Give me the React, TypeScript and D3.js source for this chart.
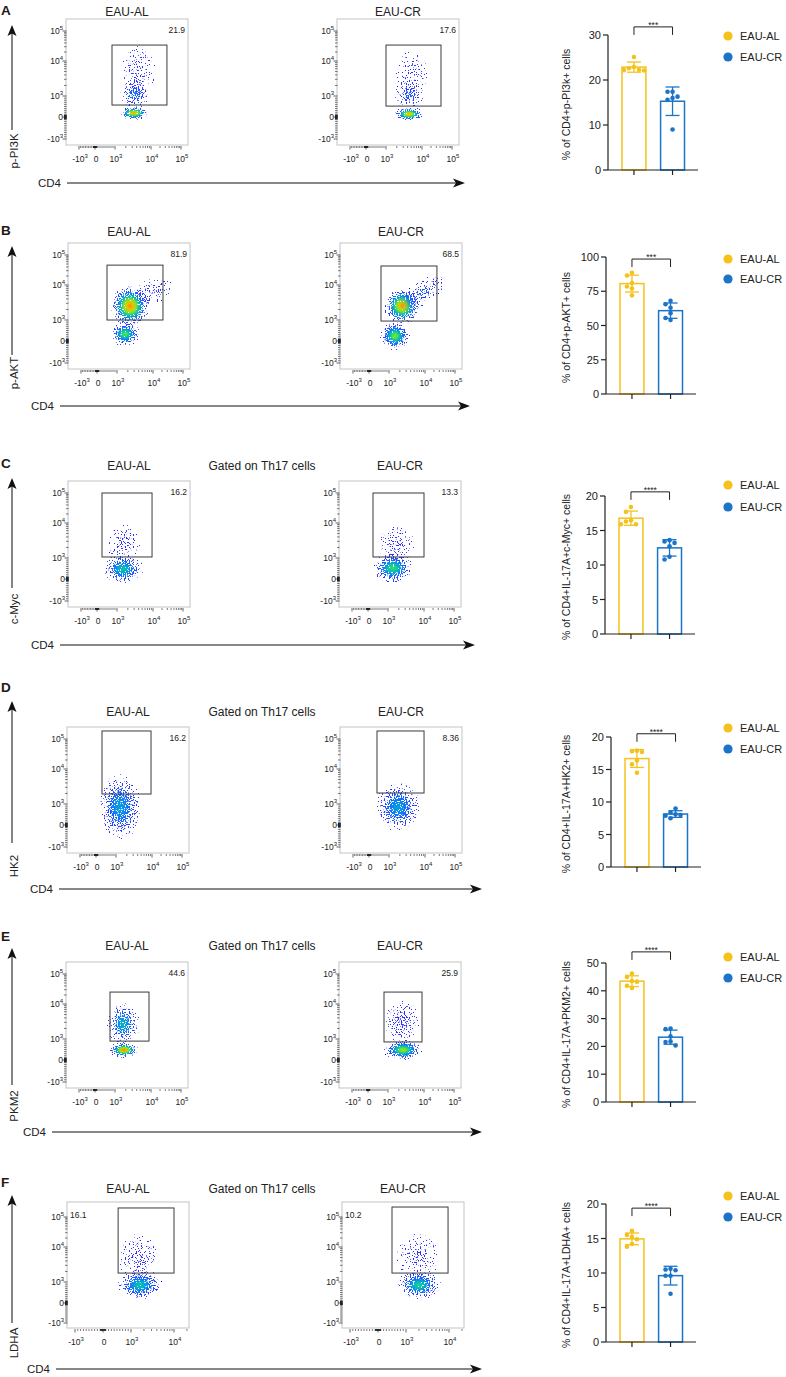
import React from 'react';
import * as d3 from 'd3';

// ---------------- DATA ----------------
const panelLetters = ['A', 'B', 'C', 'D', 'E', 'F'];
const groups = ['EAU-AL', 'EAU-CR'];
const markers = ['p-PI3K', 'p-AKT', 'c-Myc', 'HK2', 'PKM2', 'LDHA'];
const xMarker = 'CD4';
const gatedOn = [false, false, true, true, true, true];
const gatedText = 'Gated on Th17 cells';
const gatePctAL = ['21.9', '81.9', '16.2', '16.2', '44.6', '16.1'];
const gatePctCR = ['17.6', '68.5', '13.3', '8.36', '25.9', '10.2'];
// gate bounds [CD4 lo, CD4 hi, marker lo, marker hi]
const gatesAL = [
  [850, 34000, 570, 34000],
  [500, 21500, 1000, 46000],
  [250, 9400, 1070, 100000],
  [300, 9400, 1930, 185000],
  [750, 8800, 900, 25000],
  [540, 10000, 1800, 200000],
];
const gatesCR = [
  [1000, 43000, 520, 34000],
  [600, 25000, 950, 43000],
  [250, 10000, 1070, 100000],
  [400, 9400, 2060, 185000],
  [800, 8800, 860, 25000],
  [500, 9500, 1800, 215000],
];
const flowTicks = [-1000, 0, 1000, 10000, 100000];
const flowTicksLDHA = [-1000, 0, 1000, 10000];
// cell populations: [CD4, marker, rx, ry, density, heat, angle]
const popsAL = [
  [[3370, 190, 15, 7, 1, 0.85, 0], [3600, 1140, 15, 15, 0.5, 0.15, 0], [4350, 5180, 18, 25, 0.27, 0, 0]],
  [[2300, 2510, 20, 21, 1, 0.88, 0], [1670, 330, 15, 12, 0.9, 0.5, 0], [10000, 6730, 20, 12, 0.32, 0, -25]],
  [[1470, 480, 20, 15, 0.75, 0.35, 0], [1600, 2680, 17, 18, 0.32, 0, 0]],
  [[1290, 860, 21, 33, 0.7, 0.25, 0]],
  [[1780, 480, 15, 8, 1, 0.9, 0], [1670, 2680, 17, 21, 0.62, 0.3, 0]],
  [[1600, 860, 22, 15, 0.8, 0.35, 0], [1530, 5180, 20, 24, 0.32, 0, 0]],
];
const popsCR = [
  [[4350, 140, 15, 7, 1, 0.8, 0], [4350, 1070, 14, 14, 0.45, 0.1, 0], [5270, 4250, 16, 23, 0.25, 0, 0]],
  [[2300, 2510, 18, 18, 1, 0.85, 0], [1470, 240, 15, 14, 0.95, 0.55, 0], [8250, 5900, 26, 11, 0.4, 0.1, -35]],
  [[1380, 520, 20, 15, 0.85, 0.45, 0], [1670, 2510, 18, 18, 0.32, 0, 0]],
  [[1780, 860, 22, 24, 0.72, 0.25, 0]],
  [[2610, 480, 19, 10, 1, 0.6, 0], [2450, 3060, 17, 23, 0.4, 0, 0]],
  [[2000, 860, 22, 14, 0.8, 0.4, 0], [1900, 5180, 21, 24, 0.28, 0, 0]],
];

const barYLabels = [
  '% of CD4+p-PI3k+ cells',
  '% of CD4+p-AKT+ cells',
  '% of CD4+IL-17A+c-Myc+ cells',
  '% of CD4+IL-17A+HK2+ cells',
  '% of CD4+IL-17A+PKM2+ cells',
  '% of CD4+IL-17A+LDHA+ cells',
];
const barMax = [30, 100, 20, 20, 50, 20];
const barStep = [10, 25, 5, 5, 10, 5];
const sigStars = ['***', '***', '****', '****', '****', '****'];
const sigAt = [31.8, 98.5, 20.6, 20.5, 54, 19.4];
const valuesAL = [
  [25.1, 22.9, 22.1, 22.6, 22.2, 22.3],
  [88.5, 86.5, 81, 78.5, 77, 72],
  [18.4, 17.7, 16.5, 16.3, 15.9, 15.9],
  [17.9, 17.8, 17.7, 16.4, 15.8, 14.5],
  [46.2, 45.0, 43.5, 43.3, 41.8, 41.0],
  [16.1, 15.5, 15.2, 14.9, 14.2, 13.8],
];
const valuesCR = [
  [16.3, 17.4, 15.6, 17.4, 16.0, 9.0],
  [68, 65.5, 63, 59, 55.5, 54],
  [13.6, 13.4, 13.2, 12.7, 11.2, 10.8],
  [9.0, 8.4, 8.1, 8.0, 7.9, 7.5],
  [26.4, 26.2, 23.6, 21.8, 21.6, 20.3],
  [10.6, 10.5, 10.4, 9.6, 9.6, 7.0],
];

// ---------------- LAYOUT / STYLE ----------------
const FONT = "'Liberation Sans', Arial, Helvetica, sans-serif";
const INK = '#222';
const YELLOW = '#F5C21B';
const BLUE = '#1B74C7';
const groupColors = [YELLOW, BLUE];
const FW = 122;
const FH = 126;

const flowLayout = [
  { top: 19, lefts: [66, 337], title: 12, letter: 15, yArrow: [25, 130], yLabel: 151, cd4: 183, cd4End: 61, xTip: 465 },
  { top: 243, lefts: [68, 340], title: 232, letter: 235, yArrow: [246, 355], yLabel: 373, cd4: 406, cd4End: 54, xTip: 470 },
  { top: 481, lefts: [68, 339], title: 466, letter: 468, yArrow: [478, 588], yLabel: 609, cd4: 645, cd4End: 54, xTip: 475 },
  { top: 727, lefts: [67, 340], title: 712, letter: 692, yArrow: [701, 843], yLabel: 866, cd4: 889, cd4End: 53, xTip: 482 },
  { top: 962, lefts: [66, 339], title: 946, letter: 941, yArrow: [948, 1085], yLabel: 1106, cd4: 1132, cd4End: 46, xTip: 482 },
  { top: 1202, lefts: [67, 342], title: 1189, letter: 1187, yArrow: [1195, 1323], yLabel: 1343, cd4: 1369, cd4End: 50, xTip: 482 },
];
const barLayout = [
  { axisX: 608, y0: 170, yTop: 35, leg: [36, 57] },
  { axisX: 606, y0: 394, yTop: 257, leg: [259, 279] },
  { axisX: 605, y0: 634, yTop: 496, leg: [485, 507] },
  { axisX: 611, y0: 867, yTop: 737, leg: [728, 749] },
  { axisX: 606, y0: 1102, yTop: 963, leg: [957, 978] },
  { axisX: 606, y0: 1342, yTop: 1204, leg: [1196, 1217] },
];

const jet = d3.interpolateRgbBasis(['#3030ff', '#0090ff', '#00d890', '#a0ee00', '#ffd000', '#ff3000']);
const tf = (v: number) => (v <= 1000 ? v / 1000 : 1 + Math.log10(v / 1000));

const minorVals = [
  ...d3.range(-900, 0, 100),
  ...d3.range(-90, 0, 10),
  ...d3.range(10, 100, 10),
  ...d3.range(100, 1000, 100),
  ...d3.range(2000, 10000, 1000),
  ...d3.range(20000, 100000, 10000),
];

function PowText(props: { x: number; y: number; v: number; anchor: string }) {
  const { x, y, v, anchor } = props;
  if (v === 0)
    return (
      <text x={x} y={y} textAnchor={anchor} fontSize={8.5} fill={INK}>
        0
      </text>
    );
  const exp = Math.round(Math.log10(Math.abs(v)));
  return (
    <text x={x} y={y} textAnchor={anchor} fontSize={8.5} fill={INK}>
      {v < 0 ? '-10' : '10'}
      <tspan dy={-3.6} fontSize={6}>
        {exp}
      </tspan>
    </text>
  );
}

function FlowPlot(props: { p: number; s: number }) {
  const { p, s } = props;
  const L = flowLayout[p];
  const left = L.lefts[s];
  const top = L.top;
  const isF = p === 5;
  const xOff = isF ? [8, 36, 64, 107] : [13, 29, 49, 85, 115];
  const yOff = isF ? [121, 101, 80, 45, 15] : [120, 98, 77, 42, 12];
  const ticksX = isF ? flowTicksLDHA : flowTicks;
  const xs = d3.scaleLinear().domain(ticksX.map(tf)).range(xOff.map((o) => left + o));
  const ys = d3.scaleLinear().domain(flowTicks.map(tf)).range(yOff.map((o) => top + o));
  const X = (v: number) => xs(tf(v));
  const Y = (v: number) => ys(tf(v));
  const gate = (s === 0 ? gatesAL : gatesCR)[p];
  const pops = (s === 0 ? popsAL : popsCR)[p];
  const pct = (s === 0 ? gatePctAL : gatePctCR)[p];
  const bottom = top + FH;
  const right = left + FW;
  const id = `c${p}${s}`;
  const stopsT = [0, 0.15, 0.3, 0.45, 0.6, 0.8, 1];

  const xMinor = minorVals.filter((v) => X(v) <= right - 1);
  const yMinor = minorVals.filter((v) => Y(v) >= top + 1);

  return (
    <g>
      <defs>
        {pops.map((q, i) => (
          <radialGradient id={`${id}g${i}`} key={i}>
            {stopsT.map((t, k) => (
              <stop
                key={k}
                offset={t}
                stopColor={jet(q[5] * Math.exp(-4.5 * t * t))}
                stopOpacity={t >= 1 ? 0.05 : 0.06 + (q[4] - 0.06) * Math.exp(-2.4 * t * t)}
              />
            ))}
          </radialGradient>
        ))}
      </defs>
      <rect x={left} y={top} width={FW} height={FH} fill="#fff" stroke="#c4c4c4" strokeWidth={1} />
      <g filter="url(#speckle)">
        {pops.map((q, i) => {
          const cx = X(q[0]);
          const cy = Y(q[1]);
          return (
            <ellipse
              key={i}
              cx={cx}
              cy={cy}
              rx={q[2]}
              ry={q[3]}
              fill={`url(#${id}g${i})`}
              transform={`rotate(${q[6]} ${cx} ${cy})`}
            />
          );
        })}
      </g>
      <rect
        x={X(gate[0])}
        y={Y(gate[3])}
        width={X(gate[1]) - X(gate[0])}
        height={Y(gate[2]) - Y(gate[3])}
        fill="none"
        stroke="#3a3a3a"
        strokeWidth={1}
      />
      {yMinor.map((v, i) => (
        <line key={'ym' + i} x1={left - 2} x2={left + 0.5} y1={Y(v)} y2={Y(v)} stroke={INK} strokeWidth={0.6} />
      ))}
      {flowTicks.map((v, i) => (
        <line key={'yM' + i} x1={left - 3.5} x2={left + 0.5} y1={Y(v)} y2={Y(v)} stroke={INK} strokeWidth={0.7} />
      ))}
      {flowTicks.map((v, i) => (
        <PowText key={'yl' + i} x={left - 3} y={Y(v) + 3} v={v} anchor="end" />
      ))}
      {xMinor.map((v, i) => (
        <line key={'xm' + i} x1={X(v)} x2={X(v)} y1={bottom + 1} y2={bottom + 3} stroke={INK} strokeWidth={0.6} />
      ))}
      {ticksX.map((v, i) => (
        <line key={'xM' + i} x1={X(v)} x2={X(v)} y1={bottom + 1} y2={bottom + 4.5} stroke={INK} strokeWidth={0.7} />
      ))}
      {ticksX.map((v, i) => (
        <PowText key={'xl' + i} x={X(v) + 1} y={bottom + 17} v={v} anchor="middle" />
      ))}
      <text
        x={isF ? left + 3 : right - 3}
        y={top + (isF ? 15.5 : 13.5)}
        textAnchor={isF ? 'start' : 'end'}
        fontSize={8.5}
        fill={INK}
      >
        {pct}
      </text>
    </g>
  );
}

function FlowPanel(props: { p: number }) {
  const { p } = props;
  const L = flowLayout[p];
  const ax = 12;
  const [tip, yb] = L.yArrow;
  const xStart = L.cd4End + 6;
  return (
    <g>
      <text x={1} y={L.letter} fontSize={13.5} fontWeight="bold" fill="#231815">
        {panelLetters[p]}
      </text>
      <text x={L.lefts[0] + FW / 2} y={L.title + 4} textAnchor="middle" fontSize={12} fill={INK}>
        {groups[0]}
      </text>
      <text x={L.lefts[1] + FW / 2} y={L.title + 4} textAnchor="middle" fontSize={12} fill={INK}>
        {groups[1]}
      </text>
      {gatedOn[p] && (
        <text x={262} y={L.title + 4} textAnchor="middle" fontSize={12} fill={INK}>
          {gatedText}
        </text>
      )}
      <FlowPlot p={p} s={0} />
      <FlowPlot p={p} s={1} />
      <line x1={ax} x2={ax} y1={yb} y2={tip + 8} stroke="#333" strokeWidth={1.2} />
      <path d={`M${ax},${tip} L${ax + 4.5},${tip + 11} L${ax},${tip + 8.5} L${ax - 4.5},${tip + 11} Z`} fill="#111" />
      <text
        transform={`translate(${ax + 6},${L.yLabel}) rotate(-90)`}
        textAnchor="middle"
        fontSize={11.5}
        fill={INK}
      >
        {markers[p]}
      </text>
      <text x={L.cd4End} y={L.cd4 + 4} textAnchor="end" fontSize={11.5} fill={INK}>
        {xMarker}
      </text>
      <line x1={xStart} x2={L.xTip - 8} y1={L.cd4} y2={L.cd4} stroke="#111" strokeWidth={1.2} />
      <path
        d={`M${L.xTip},${L.cd4} L${L.xTip - 12},${L.cd4 - 4.5} L${L.xTip - 9},${L.cd4} L${L.xTip - 12},${L.cd4 + 4.5} Z`}
        fill="#111"
      />
    </g>
  );
}

function swarm(vals: number[], y: (v: number) => number, cx: number, r: number) {
  const order = d3.range(vals.length).sort((a, b) => vals[b] - vals[a]);
  const placed: { x: number; y: number }[] = [];
  const out: { x: number; y: number }[] = new Array(vals.length);
  const cands = [0, -5, 5, -10, 10, -2.5, 2.5, -7.5, 7.5];
  for (const i of order) {
    const py = y(vals[i]);
    let px = cx;
    for (const c of cands) {
      const tx = cx + c;
      if (placed.every((q) => Math.hypot(q.x - tx, q.y - py) >= 2 * r + 0.4)) {
        px = tx;
        break;
      }
    }
    placed.push({ x: px, y: py });
    out[i] = { x: px, y: py };
  }
  return out;
}

function BarPanel(props: { p: number }) {
  const { p } = props;
  const L = barLayout[p];
  const y = d3.scaleLinear().domain([0, barMax[p]]).range([L.y0, L.yTop]);
  const x = d3.scaleBand().domain(groups).range([L.axisX + 14, L.axisX + 76.5]).paddingInner(0.38);
  const ticks = d3.range(0, barMax[p] + 1e-9, barStep[p]);
  const series = [valuesAL[p], valuesCR[p]];
  const bw = x.bandwidth();
  const c0 = (x(groups[0]) as number) + bw / 2;
  const c1 = (x(groups[1]) as number) + bw / 2;
  const sy = y(sigAt[p]);
  const mid = (L.yTop + L.y0) / 2;
  return (
    <g>
      {series.map((vals, gi) => {
        const g = groups[gi];
        const col = groupColors[gi];
        const m = d3.mean(vals) as number;
        const sd = d3.deviation(vals) as number;
        const x0 = x(g) as number;
        const cx = x0 + bw / 2;
        const pts = swarm(vals, y, cx, 2.3);
        return (
          <g key={g}>
            <rect x={x0} y={y(m)} width={bw} height={y(0) - y(m)} fill="#fff" stroke={col} strokeWidth={1.5} />
            <line x1={cx} x2={cx} y1={y(m - sd)} y2={y(m + sd)} stroke={col} strokeWidth={1.3} />
            <line x1={cx - 7} x2={cx + 7} y1={y(m + sd)} y2={y(m + sd)} stroke={col} strokeWidth={1.3} />
            <line x1={cx - 7} x2={cx + 7} y1={y(m - sd)} y2={y(m - sd)} stroke={col} strokeWidth={1.3} />
            {pts.map((pt, k) => (
              <circle key={k} cx={pt.x} cy={pt.y} r={2.3} fill={col} />
            ))}
          </g>
        );
      })}
      <line x1={L.axisX} x2={L.axisX} y1={L.yTop} y2={L.y0} stroke={INK} strokeWidth={1.2} />
      <line x1={L.axisX} x2={L.axisX + 90} y1={L.y0} y2={L.y0} stroke={INK} strokeWidth={1.2} />
      {ticks.map((t) => (
        <g key={t}>
          <line x1={L.axisX - 5} x2={L.axisX} y1={y(t)} y2={y(t)} stroke={INK} strokeWidth={1.2} />
          <text x={L.axisX - 7} y={y(t) + 4} textAnchor="end" fontSize={11} fill={INK}>
            {t}
          </text>
        </g>
      ))}
      {[c0, c1].map((c, i) => (
        <line key={i} x1={c} x2={c} y1={L.y0} y2={L.y0 + 5} stroke={INK} strokeWidth={1.2} />
      ))}
      <text
        transform={`translate(${570},${mid + 2}) rotate(-90)`}
        textAnchor="middle"
        fontSize={10.5}
        fill={INK}
      >
        {barYLabels[p]}
      </text>
      <path d={`M${c0},${sy + 8} V${sy} H${c1} V${sy + 8}`} fill="none" stroke={INK} strokeWidth={1} />
      <text x={(c0 + c1) / 2} y={sy + 1} textAnchor="middle" fontSize={8.5} fill={INK}>
        {sigStars[p]}
      </text>
      {groups.map((g, i) => (
        <g key={g}>
          <circle cx={728} cy={L.leg[i]} r={4.6} fill={groupColors[i]} />
          <text x={740} y={L.leg[i] + 4} fontSize={11} fill={INK}>
            {g}
          </text>
        </g>
      ))}
    </g>
  );
}

export default function App() {
  return (
    <svg
      width={786}
      height={1377}
      viewBox="0 0 786 1377"
      style={{ position: 'absolute', left: 0, top: 0, background: '#fff' }}
      fontFamily={FONT}
    >
      <defs>
        <filter id="speckle" x="-10%" y="-10%" width="120%" height="120%" colorInterpolationFilters="sRGB">
          <feTurbulence type="fractalNoise" baseFrequency="0.75" numOctaves={1} seed={4} result="noise" />
          <feColorMatrix
            in="noise"
            type="matrix"
            values="0 0 0 0 0  0 0 0 0 0  0 0 0 0 0  1 0 0 0 0"
            result="nA"
          />
          <feComposite in="SourceAlpha" in2="nA" operator="arithmetic" k1={0} k2={0.5} k3={1} k4={-0.7} result="m" />
          <feComponentTransfer in="m" result="mask">
            <feFuncA type="linear" slope={25} intercept={0} />
          </feComponentTransfer>
          <feColorMatrix
            in="SourceGraphic"
            type="matrix"
            values="1 0 0 0 0  0 1 0 0 0  0 0 1 0 0  0 0 0 255 0"
            result="opq"
          />
          <feComposite in="opq" in2="mask" operator="in" />
        </filter>
      </defs>
      <rect x={0} y={0} width={786} height={1377} fill="#fff" />
      {panelLetters.map((l, p) => (
        <g key={l}>
          <FlowPanel p={p} />
          <BarPanel p={p} />
        </g>
      ))}
    </svg>
  );
}
